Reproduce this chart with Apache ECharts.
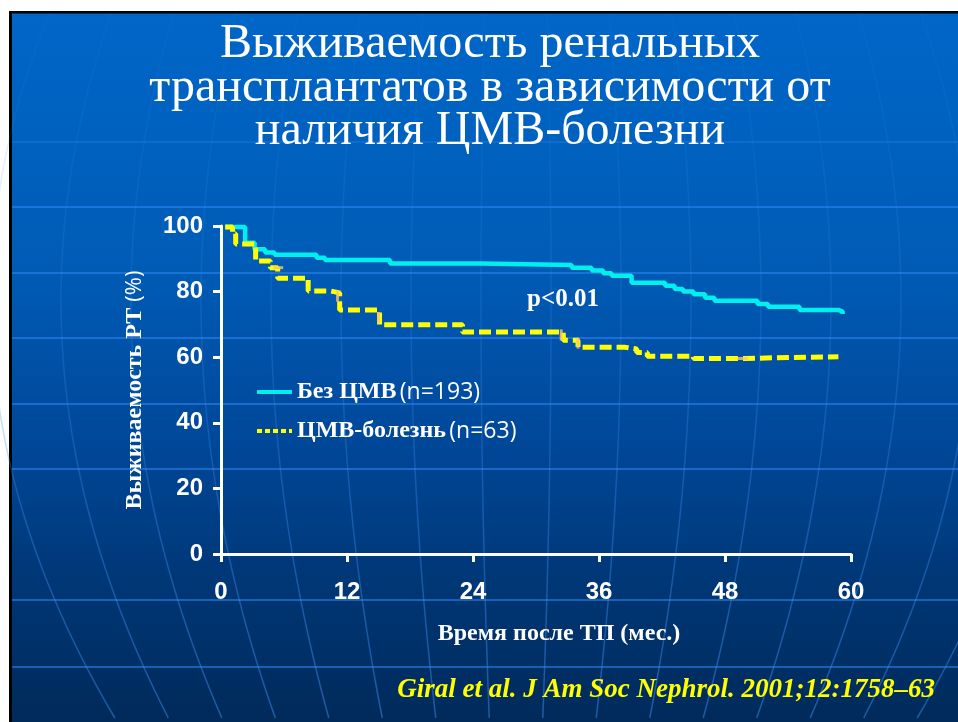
<!DOCTYPE html>
<html lang="ru">
<head>
<meta charset="UTF-8">
<title>Выживаемость ренальных трансплантатов</title>
<script src="https://cdn.jsdelivr.net/npm/echarts@6/dist/echarts.min.js"></script>
<style>
  html, body { margin: 0; padding: 0; background: #fff; }
  #chart { width: 958px; height: 722px; }
</style>
</head>
<body>
<div id="chart"></div>
<script>
// tick labels of both axes
var xTicks = [0, 12, 24, 36, 48, 60]
var yTicks = [0, 20, 40, 60, 80, 100]

// group names and sizes
var groupNames = ['Без ЦМВ', 'ЦМВ-болезнь']
var groupN = [193, 63]

// Kaplan-Meier curves: [месяц, выживаемость %]
var noCmv = [[0.4, 99.7], [2.3, 94.9], [3.2, 92.9], [4.2, 91.9], [5.1, 91.2], [9.1, 90.3], [9.9, 89.6],
    [16.1, 88.6], [24.7, 88.1], [33.4, 87.3], [35.3, 86.4], [36.4, 85.6], [37.2, 84.8], [39.1, 82.7],
    [42.3, 81.8], [43.2, 80.8], [44.0, 80.0], [45.0, 79.2], [46.1, 78.1], [47.0, 77.2], [51.1, 76.2],
    [52.1, 75.4], [55.1, 74.4], [58.8, 73.9], [59.2, 73.9], [59.2, 73.2]]
var cmv = [[0.4, 99.7], [1.1, 97.6], [1.4, 94.5], [3.3, 89.3], [4.7, 87.3], [5.4, 84.1], [8.3, 80.2],
    [10.4, 79.6], [11.3, 74.4], [15.1, 69.9], [23.0, 67.7], [32.6, 65.2], [34.0, 63.0], [38.5, 62.5],
    [39.6, 61.4], [40.6, 60.3], [45.0, 59.6], [50.0, 59.8], [52.5, 60.1], [58.8, 60.1]]

// censored observations (orange ticks)
var censorV = [[11.1, 78.6], [15.0, 72.1], [32.4, 66.8], [34.0, 64.3]]
var censorH = [[5.45, 87.3], [49.7, 59.6]]

var pText = 'p<0.01'
var citation = 'Giral et al. J Am Soc Nephrol. 2001;12:1758\u201363'

var mCharts = echarts.init(document.getElementById('chart'))

// background slide decoration
var deco = [{
    type: 'rect', z: -20, silent: true,
    shape: { x: 12, y: 13, width: 946, height: 709 },
    style: {
        fill: new echarts.graphic.LinearGradient(0, 0, 0, 1, [
            { offset: 0, color: '#0066c8' },
            { offset: 0.35, color: '#005cb6' },
            { offset: 0.6, color: '#00489a' },
            { offset: 0.8, color: '#003776' },
            { offset: 1, color: '#002a5a' }
        ])
    }
}, {
    type: 'rect', z: -19, silent: true,
    shape: { x: 9, y: 11, width: 949, height: 2.5 }, style: { fill: '#000' }
}, {
    type: 'rect', z: -19, silent: true,
    shape: { x: 9, y: 11, width: 3, height: 711 }, style: { fill: '#000' }
}]
var latY = [142, 207, 273, 338, 404, 469, 600, 667]
latY.forEach(function(y) {
    deco.push({
        type: 'line', z: -18, silent: true,
        shape: { x1: 12, y1: y, x2: 958, y2: y },
        style: { stroke: y < 180 ? 'rgba(45,135,245,0.3)' : 'rgba(45,135,245,0.55)', lineWidth: 2 }
    })
})
var meridianFade = new echarts.graphic.LinearGradient(0, 13, 0, 722, [
    { offset: 0, color: 'rgba(60,140,240,0.05)' },
    { offset: 0.5, color: 'rgba(60,140,240,0.25)' },
    { offset: 1, color: 'rgba(60,140,240,0.5)' }
], true)
for (var k = -8; k <= 7; k++) {
    var off = (k + 0.5) * 70
    var pts = []
    for (var yy = 13; yy <= 722; yy += 15) {
        pts.push([516 + off * (1 - 1.35e-6 * (yy - 300) * (yy - 300)), yy])
    }
    deco.push({
        type: 'polyline', z: -18, silent: true,
        shape: { points: pts },
        style: { stroke: meridianFade, lineWidth: 1.5, fill: null }
    })
}
deco.push({
    type: 'text', z: 10, silent: true,
    style: {
        text: 'Выживаемость ренальных\nтрансплантатов в зависимости от\nналичия ЦМВ-болезни',
        x: 490, y: 23, textAlign: 'center', textVerticalAlign: 'top',
        fontFamily: 'Liberation Serif', fontSize: 48, lineHeight: 43.5, fill: '#fff'
    }
}, {
    type: 'text', z: 10, silent: true,
    style: {
        text: pText, x: 527, y: 300, textVerticalAlign: 'middle',
        fontFamily: 'Liberation Serif', fontWeight: 'bold', fontSize: 25, fill: '#fff'
    }
}, {
    type: 'text', z: 10, silent: true,
    style: {
        text: citation, x: 935, y: 690, textAlign: 'right', textVerticalAlign: 'middle',
        fontFamily: 'Liberation Serif', fontWeight: 'bold', fontStyle: 'italic', fontSize: 27, fill: '#ffff00'
    }
})

var option = {
    animation: false,
    backgroundColor: '#fff',
    graphic: deco,
    grid: { left: 221, right: 107, top: 226, bottom: 168 },
    legend: {
        left: 255, top: 380, orient: 'vertical', padding: 0,
        itemWidth: 35, itemHeight: 14, itemGap: 15,
        data: [
            { name: groupNames[0], itemStyle: { opacity: 0 }, lineStyle: { color: '#00f0f0', width: 4, type: 'solid' } },
            { name: groupNames[1], itemStyle: { opacity: 0 }, lineStyle: { color: '#ffff00', width: 4, type: [5, 3] } }
        ],
        formatter: function(name) {
            var i = groupNames.indexOf(name)
            return '{b|' + name + '} {n|(n=' + groupN[i] + ')}'
        },
        textStyle: {
            color: '#fff',
            rich: {
                b: { fontFamily: 'Liberation Serif', fontWeight: 'bold', fontSize: 24, color: '#fff' },
                n: { fontFamily: 'Open Sans', fontSize: 23, color: '#fff' }
            }
        }
    },
    xAxis: {
        type: 'value', min: xTicks[0], max: xTicks[xTicks.length - 1], interval: xTicks[1] - xTicks[0],
        name: 'Время после ТП (мес.)', nameLocation: 'middle', nameGap: 68,
        nameTextStyle: { color: '#fff', fontFamily: 'Liberation Serif', fontWeight: 'bold', fontSize: 24, padding: [0, 0, 0, 46] },
        axisLine: { lineStyle: { color: '#fff', width: 3 } },
        axisTick: { length: 8, lineStyle: { color: '#fff', width: 3 } },
        axisLabel: { margin: 26, color: '#fff', fontFamily: 'Liberation Sans', fontWeight: 'bold', fontSize: 24 },
        splitLine: { show: false }
    },
    yAxis: {
        type: 'value', min: yTicks[0], max: yTicks[yTicks.length - 1], interval: yTicks[1] - yTicks[0],
        name: '{a|Выживаемость РТ }{b|(%)}', nameLocation: 'middle', nameGap: 74,
        nameTextStyle: {
            color: '#fff',
            rich: {
                a: { fontFamily: 'Liberation Serif', fontWeight: 'bold', fontSize: 24, color: '#fff' },
                b: { fontFamily: 'Open Sans', fontSize: 22, color: '#fff' }
            }
        },
        axisLine: { show: true, lineStyle: { color: '#fff', width: 3 } },
        axisTick: { show: true, length: 8, lineStyle: { color: '#fff', width: 3 } },
        axisLabel: { margin: 18, color: '#fff', fontFamily: 'Liberation Sans', fontWeight: 'bold', fontSize: 24 },
        splitLine: { show: false }
    },
    series: [{
        name: groupNames[0], type: 'line', step: 'end', data: noCmv,
        symbol: 'none', z: 3,
        lineStyle: { color: '#00f0f0', width: 4.5 },
        itemStyle: { color: '#00f0f0' }
    }, {
        name: groupNames[1], type: 'line', step: 'end', data: cmv,
        symbol: 'none', z: 4,
        lineStyle: { color: '#ffff00', width: 5, type: [12, 5] },
        itemStyle: { color: '#ffff00' }
    }, {
        name: 'censorV', type: 'scatter', data: censorV, z: 5,
        symbol: 'rect', symbolSize: [3, 11],
        itemStyle: { color: '#f5c574' }
    }, {
        name: 'censorH', type: 'scatter', data: censorH, z: 5,
        symbol: 'rect', symbolSize: [10, 3],
        itemStyle: { color: '#f5c574' }
    }]
}
mCharts.setOption(option)
</script>
</body>
</html>
